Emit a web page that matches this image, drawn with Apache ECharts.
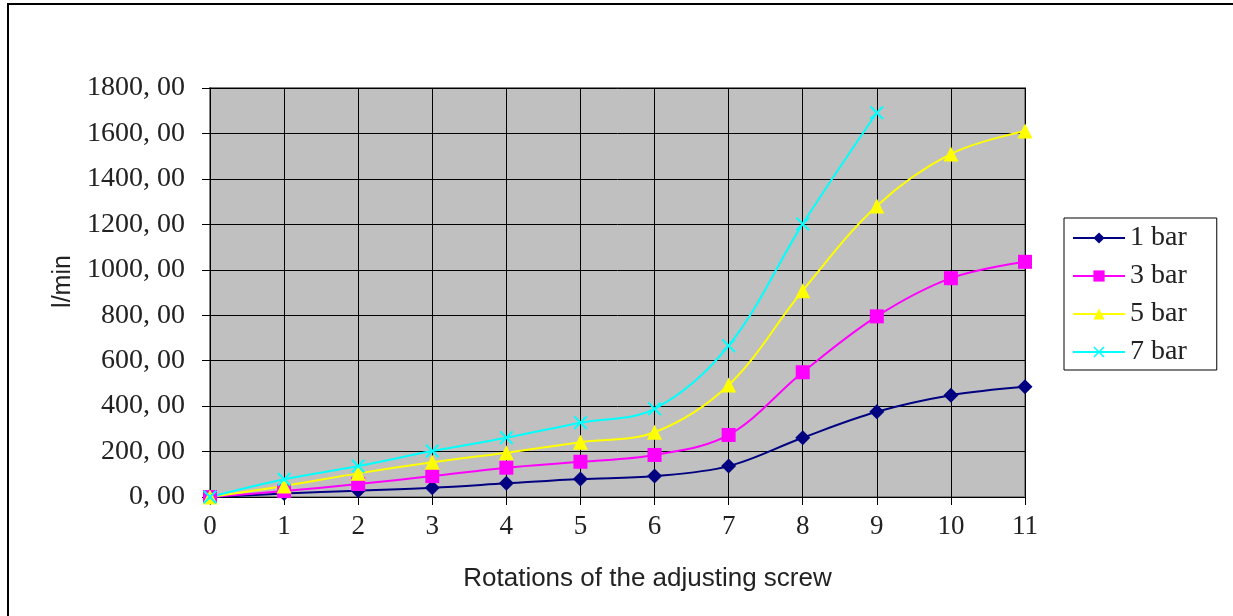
<!DOCTYPE html>
<html>
<head>
<meta charset="utf-8">
<script src="https://cdn.jsdelivr.net/npm/echarts@6/dist/echarts.min.js"></script>
<style>
  html, body { margin: 0; padding: 0; background: #fff; }
  #chart { width: 1233px; height: 616px; }
</style>
</head>
<body>
<div id="chart"></div>
<script>
// rotations of the adjusting screw
const rotations = ['0', '1', '2', '3', '4', '5', '6', '7', '8', '9', '10', '11']
// flow in l/min per pressure
const bar1 = [0, 15, 28, 41, 60, 79, 92, 136, 261, 375, 448, 485]
const bar3 = [0, 26, 57, 92, 129, 155, 185, 273, 549, 795, 963, 1035]
const bar5 = [0, 48, 104, 153, 195, 241, 285, 493, 908, 1281, 1510, 1611]
const bar7 = [0, 78, 136, 202, 261, 327, 388, 666, 1202, 1691]
const seriesNames = ['1 bar', '3 bar', '5 bar', '7 bar']

const serif = 'Liberation Serif'
const crossPath = 'path://M1,0 L5,4 L9,0 L10,1 L6,5 L10,9 L9,10 L5,6 L1,10 L0,9 L4,5 L0,1 Z'

const makeSeries = (name, data, color, symbol, size) => ({
  name,
  type: 'line',
  data,
  smooth: 0.35,
  symbol,
  symbolSize: size,
  lineStyle: { color, width: 2 },
  itemStyle: { color },
  emphasis: { disabled: true },
})

const chart = echarts.init(document.getElementById('chart'))

const option = {
  backgroundColor: '#fff',
  animation: false,
  graphic: [
    {
      type: 'rect',
      shape: { x: 8, y: 4, width: 1400, height: 800 },
      style: { fill: 'none', stroke: '#000', lineWidth: 2 },
      silent: true,
    },
  ],
  grid: {
    left: 210,
    right: 208,
    top: 88,
    bottom: 119,
    show: true,
    backgroundColor: '#C0C0C0',
    borderColor: '#808080',
    borderWidth: 2,
  },
  legend: {
    orient: 'vertical',
    left: 1064,
    top: 218,
    padding: [6, 30, 4, 8],
    itemGap: 10,
    itemWidth: 52,
    itemHeight: 14,
    borderColor: '#000',
    borderWidth: 1,
    backgroundColor: '#fff',
    textStyle: { fontFamily: serif, fontSize: 28, color: '#222' },
    data: seriesNames,
  },
  xAxis: {
    type: 'category',
    data: rotations,
    boundaryGap: false,
    name: 'Rotations of the adjusting screw',
    nameLocation: 'middle',
    nameGap: 69,
    nameTextStyle: {
      fontFamily: 'Liberation Sans',
      fontSize: 26,
      color: '#222',
      padding: [0, 0, 0, 60],
    },
    axisLine: { lineStyle: { color: '#000', width: 1 } },
    axisTick: { show: true, length: 8, inside: false, lineStyle: { color: '#000' } },
    axisLabel: { fontFamily: serif, fontSize: 27, color: '#222', margin: 16 },
    splitLine: { show: true, lineStyle: { color: '#000', width: 1 } },
  },
  yAxis: {
    type: 'value',
    min: 0,
    max: 1800,
    interval: 200,
    name: 'l/min',
    nameLocation: 'middle',
    nameGap: 122,
    nameTextStyle: {
      fontFamily: 'Liberation Sans',
      fontSize: 25,
      color: '#222',
      padding: [0, 0, 0, 22],
    },
    axisLine: { show: true, lineStyle: { color: '#000', width: 1 } },
    axisTick: { show: true, length: 8, lineStyle: { color: '#000' } },
    axisLabel: {
      fontFamily: serif,
      fontSize: 28,
      color: '#222',
      margin: 25,
      formatter: (v) => v.toFixed(2).replace('.', ', '),
    },
    splitLine: { show: true, lineStyle: { color: '#000', width: 1 } },
  },
  series: [
    makeSeries(seriesNames[0], bar1, '#000080', 'diamond', 15),
    makeSeries(seriesNames[1], bar3, '#FF00FF', 'rect', 14),
    makeSeries(seriesNames[2], bar5, '#FFFF00', 'triangle', 15),
    makeSeries(seriesNames[3], bar7, '#00FFFF', crossPath, 14),
  ],
}

chart.setOption(option)
</script>
</body>
</html>
